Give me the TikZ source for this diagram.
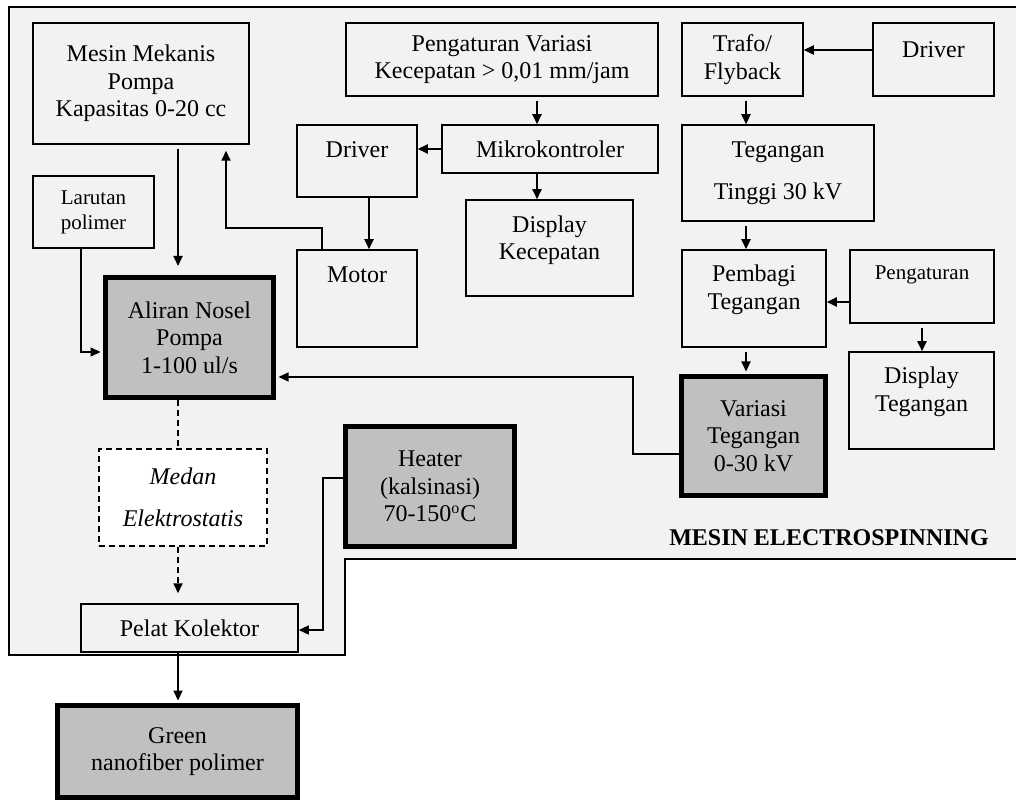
\documentclass[tikz,border=0pt]{standalone}
\usepackage{fontspec}
\setmainfont{Liberation Serif}
\usetikzlibrary{arrows.meta}
\definecolor{latar}{HTML}{F2F2F2}
\definecolor{abu}{HTML}{C0C0C0}
\begin{document}
\begin{tikzpicture}[x=0.5pt, y=-0.5pt, font=\fontsize{12}{13.75}\selectfont,
	blok/.style={draw, line width=0.75pt, inner sep=0pt, align=center},
	utama/.style={draw, line width=2.5pt, fill=abu, inner sep=0pt, align=center},
	sz/.style 2 args={minimum width=#1*0.5pt, minimum height=#2*0.5pt},
	panah/.style={line width=1pt, -{Triangle[length=5pt, width=4.5pt]}},
	kabel/.style={line width=0.65pt, -{Triangle[length=5pt, width=4.5pt]}},
	kecil/.style={font=\fontsize{10.5}{12.5}\selectfont}]
			\useasboundingbox (0,0) rectangle (1016,801);
			\begin{scope}
			\clip (0,0) rectangle (1016,801);
			\draw[line width=1pt, fill=latar] (9,7) -- (1030,7) -- (1030,559) -- (345,559) -- (345,655) -- (9,655) -- cycle;
			\end{scope}
			\node[blok, sz={216}{121}] (mesin) at (141,83.5) {Mesin Mekanis\\Pompa\\Kapasitas 0-20 cc};
			\node[blok, kecil, sz={121}{72}] (larutan) at (93.5,212) {Larutan\\polimer};
			\node[blok, sz={312}{73}] (atur) at (502,59.5) {Pengaturan Variasi\\Kecepatan > 0,01 mm/jam};
			\node[blok, sz={216}{48}] (mikro) at (550,149) {Mikrokontroler};
			\node[blok, sz={120}{72}] (drvA) at (357,161) {};
			\node (drvAt) at (357,150) {Driver};
			\node[blok, sz={120}{97}] (motor) at (357,298.5) {};
			\node (motort) at (357,275) {Motor};
			\node[blok, sz={167}{96}] (dispK) at (549.5,248) {};
			\node[align=center] (dispKt) at (549.5,240) {Display\\Kecepatan};
			\node[blok, sz={121}{73}] (trafo) at (742.5,59.5) {Trafo/\\Flyback};
			\node[blok, sz={121}{73}] (drvB) at (933.5,59.5) {};
			\node (drvBt) at (933.5,50) {Driver};
			\node[blok, sz={192}{96}] (tinggi) at (778,173) {Tegangan\\[7.5pt]Tinggi 30 kV};
			\node[blok, sz={144}{97}] (bagi) at (754,298.5) {};
			\node[align=center] (bagit) at (754,290) {Pembagi\\Tegangan};
			\node[blok, sz={144}{73}] (aturV) at (922,286.5) {};
			\node[kecil] (aturVt) at (922,275) {Pengaturan};
			\node[blok, sz={145}{97}] (dispT) at (921.5,400.5) {};
			\node[align=center] (dispTt) at (921.5,392) {Display\\Tegangan};
			\node[utama, sz={144}{119}] (variasi) at (753.5,436) {Variasi\\Tegangan\\0-30 kV};
			\node[utama, sz={168}{120}] (aliran) at (189.5,337.5) {Aliran Nosel\\Pompa\\1-100 ul/s};
			\node[utama, sz={169}{120}] (heater) at (430,486.5) {Heater\\(kalsinasi)\\70-150\textsuperscript{o}C};
			\node[blok, dash pattern=on 3pt off 2pt, fill=white, sz={168}{97}, font=\fontsize{12}{13.75}\selectfont\itshape] (medan) at (183,497.5) {Medan\\[7.5pt]Elektrostatis};
			\node[blok, sz={217}{48}] (pelat) at (189.5,628) {Pelat Kolektor};
			\node[utama, sz={240}{92}] (green) at (177.5,751.5) {Green\\nanofiber polimer};
			\node[font=\fontsize{12}{13.75}\selectfont\bfseries] (judul) at (829,538) {MESIN ELECTROSPINNING};
			\coordinate (kolA) at (178,0);
			\coordinate (kolK) at (537,0);
			\coordinate (kolT) at (746,0);
			\coordinate (barD) at (0,50);
			\coordinate (barB) at (0,302);
			\coordinate (m1) at (322,228);
			\coordinate (m2) at (226,228);
			\coordinate (l1) at (81,352);
			\coordinate (v1) at (633,454);
			\coordinate (v2) at (633,377);
			\coordinate (h1) at (323,478);
			\coordinate (h2) at (323,630);
			\draw[panah, shorten <=2pt, shorten >=4.5pt] (mesin.south -| kolA) -- (aliran.north -| kolA);
			\draw[panah, shorten >=3pt] (motor.north -| m1) -- (m1) -- (m2) -- (mesin.south -| m2);
			\draw[panah] ([xshift=6pt]drvA.south) -- ([xshift=6pt]motor.north);
			\draw[panah, shorten <=2pt] (atur.south -| kolK) -- (mikro.north -| kolK);
			\draw[panah] (mikro.west) -- (mikro.west -| drvA.east);
			\draw[panah] (mikro.south -| kolK) -- (dispK.north -| kolK);
			\draw[panah] (drvB.west |- barD) -- (trafo.east |- barD);
			\draw[panah, shorten <=2pt] (trafo.south -| kolT) -- (tinggi.north -| kolT);
			\draw[panah, shorten <=2pt] (tinggi.south -| kolT) -- (bagi.north -| kolT);
			\draw[panah, shorten <=2pt, shorten >=1.25pt] (bagi.south -| kolT) -- (variasi.north -| kolT);
			\draw[panah] (aturV.west |- barB) -- (bagi.east |- barB);
			\draw[panah, shorten <=2pt] (aturV.south) -- (aturV.south |- dispT.north);
			\draw[kabel, shorten >=1.25pt] (variasi.west |- v1) -- (v1) -- (v2) -- (aliran.east |- v2);
			\draw[kabel, shorten >=1.25pt] (larutan.south -| l1) -- (l1) -- (aliran.west |- l1);
			\draw[line width=1pt, dash pattern=on 3pt off 2pt] (aliran.south -| kolA) -- (medan.north -| kolA);
			\draw[panah, dash pattern=on 3pt off 2pt, shorten >=5pt] (medan.south -| kolA) -- (pelat.north -| kolA);
			\draw[kabel] (heater.west |- h1) -- (h1) -- (h2) -- (pelat.east |- h2);
			\draw[panah, shorten >=1.25pt] (pelat.south -| kolA) -- (green.north -| kolA);
\end{tikzpicture}
\end{document}
